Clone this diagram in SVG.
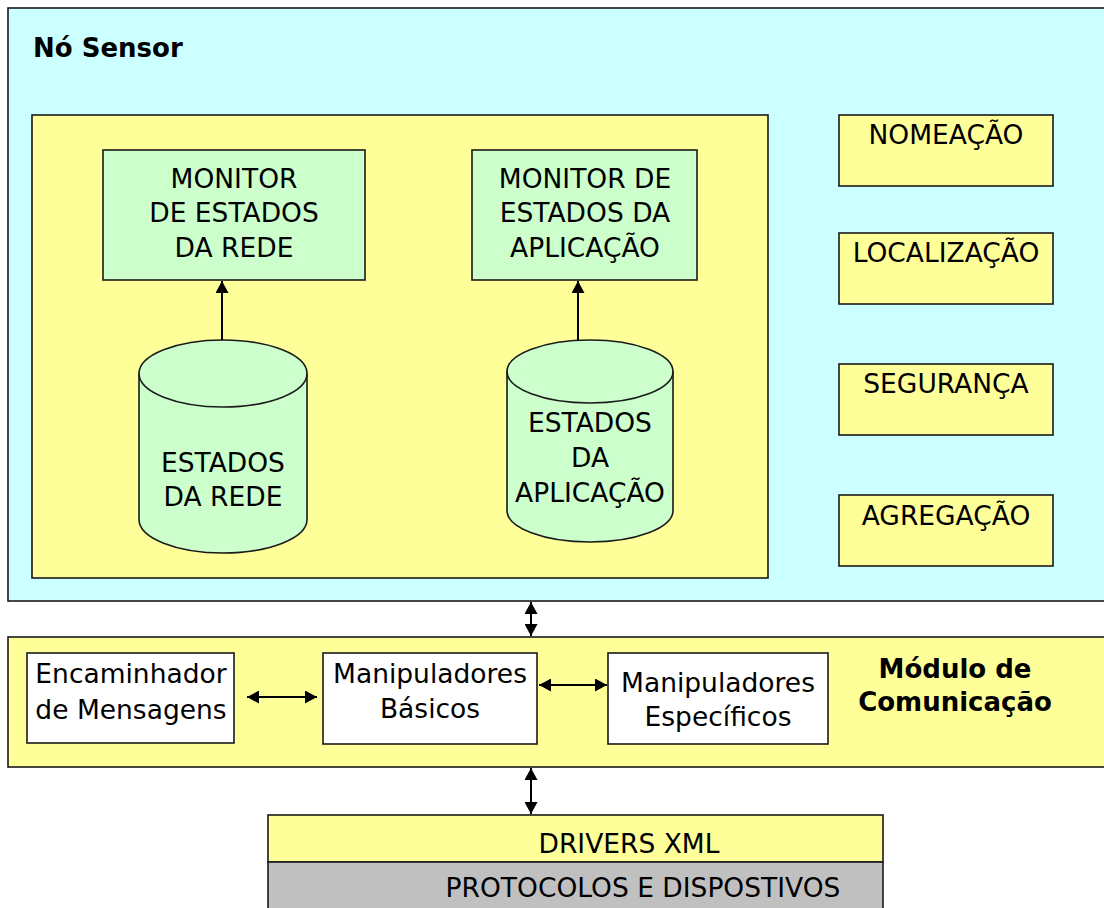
<svg xmlns="http://www.w3.org/2000/svg" width="1104" height="908" viewBox="0 0 1104 908">
<style>
.bx{stroke:#1a1a1a;stroke-width:1.6}
.cy{fill:#CCFFCC}
.yl{fill:#FFFF99}
.wh{fill:#FFFFFF}
.t{font-family:"DejaVu Sans","Liberation Sans",sans-serif;font-size:26.5px;fill:#000;text-anchor:middle}
.b{font-weight:bold;font-size:26px}
.ln{stroke:#000;stroke-width:2;fill:none}
</style>
<defs>
<marker id="ah" viewBox="0 0 12 13" refX="12" refY="6.5" markerWidth="12" markerHeight="13" markerUnits="userSpaceOnUse" orient="auto-start-reverse">
<path d="M0,0 L12,6.5 L0,13 Z" fill="#000"/>
</marker>
</defs>
<rect width="1104" height="908" fill="#FFFFFF"/>
<g id="no-sensor">
<rect class="bx" x="8" y="8" width="1100" height="593" fill="#CCFFFF"/>
<text class="t b" x="33" y="57" style="text-anchor:start">Nó Sensor</text>
</g>
<g id="nucleo">
<rect class="bx yl" x="32" y="115" width="736" height="463"/>
</g>
<g id="monitor-rede">
<rect class="bx cy" x="103" y="150" width="262" height="130"/>
<text class="t" x="234" y="188">MONITOR</text>
<text class="t" x="234" y="222">DE ESTADOS</text>
<text class="t" x="234" y="257">DA REDE</text>
</g>
<g id="monitor-app">
<rect class="bx cy" x="472" y="150" width="225" height="130"/>
<text class="t" x="585" y="188">MONITOR DE</text>
<text class="t" x="585" y="222">ESTADOS DA</text>
<text class="t" x="585" y="257">APLICAÇÃO</text>
</g>
<g id="estados-rede">
<path class="bx cy" d="M139,373.5 A84,33.5 0 0 1 307,373.5 V519.5 A84,33.5 0 0 1 139,519.5 Z"/>
<path class="bx" fill="none" d="M139,373.5 A84,33.5 0 0 0 307,373.5"/>
<text class="t" x="223" y="472">ESTADOS</text>
<text class="t" x="223" y="506">DA REDE</text>
</g>
<g id="estados-app">
<path class="bx cy" d="M507,371.5 A83,31.5 0 0 1 673,371.5 V510.5 A83,31.5 0 0 1 507,510.5 Z"/>
<path class="bx" fill="none" d="M507,371.5 A83,31.5 0 0 0 673,371.5"/>
<text class="t" x="590" y="432">ESTADOS</text>
<text class="t" x="590" y="467">DA</text>
<text class="t" x="590" y="502">APLICAÇÃO</text>
</g>
<g id="nomeacao">
<rect class="bx yl" x="839" y="115" width="214" height="71"/>
<text class="t" x="946" y="144">NOMEAÇÃO</text>
</g>
<g id="localizacao">
<rect class="bx yl" x="839" y="233" width="214" height="71"/>
<text class="t" x="946" y="262">LOCALIZAÇÃO</text>
</g>
<g id="seguranca">
<rect class="bx yl" x="839" y="364" width="214" height="71"/>
<text class="t" x="946" y="393">SEGURANÇA</text>
</g>
<g id="agregacao">
<rect class="bx yl" x="839" y="495" width="214" height="71"/>
<text class="t" x="946" y="525">AGREGAÇÃO</text>
</g>
<g id="modulo-comunicacao">
<rect class="bx yl" x="8" y="637" width="1100" height="130"/>
<text class="t b" x="955" y="678">Módulo de</text>
<text class="t b" x="955" y="711">Comunicação</text>
</g>
<g id="encaminhador">
<rect class="bx wh" x="27" y="653" width="207" height="90"/>
<text class="t" x="131" y="683">Encaminhador</text>
<text class="t" x="131" y="719">de Mensagens</text>
</g>
<g id="manip-basicos">
<rect class="bx wh" x="323" y="653" width="214" height="91"/>
<text class="t" x="430" y="683">Manipuladores</text>
<text class="t" x="430" y="718">Básicos</text>
</g>
<g id="manip-especificos">
<rect class="bx wh" x="608" y="653" width="220" height="91"/>
<text class="t" x="718" y="692">Manipuladores</text>
<text class="t" x="718" y="726">Específicos</text>
</g>
<g id="drivers">
<rect class="bx yl" x="268" y="815" width="615" height="47"/>
<text class="t" x="629" y="853">DRIVERS XML</text>
</g>
<g id="protocolos">
<rect class="bx" x="268" y="862" width="615" height="50" fill="#C0C0C0"/>
<text class="t" x="643" y="897">PROTOCOLOS E DISPOSTIVOS</text>
</g>
<g id="connectors">
<line class="ln" x1="222" y1="340" x2="222" y2="281" marker-end="url(#ah)"/>
<line class="ln" x1="578" y1="340" x2="578" y2="281" marker-end="url(#ah)"/>
<line class="ln" x1="531" y1="602" x2="531" y2="636" marker-start="url(#ah)" marker-end="url(#ah)"/>
<line class="ln" x1="247" y1="697" x2="317" y2="697" marker-start="url(#ah)" marker-end="url(#ah)"/>
<line class="ln" x1="539" y1="685" x2="607" y2="685" marker-start="url(#ah)" marker-end="url(#ah)"/>
<line class="ln" x1="531" y1="768" x2="531" y2="814" marker-start="url(#ah)" marker-end="url(#ah)"/>
</g>
</svg>
